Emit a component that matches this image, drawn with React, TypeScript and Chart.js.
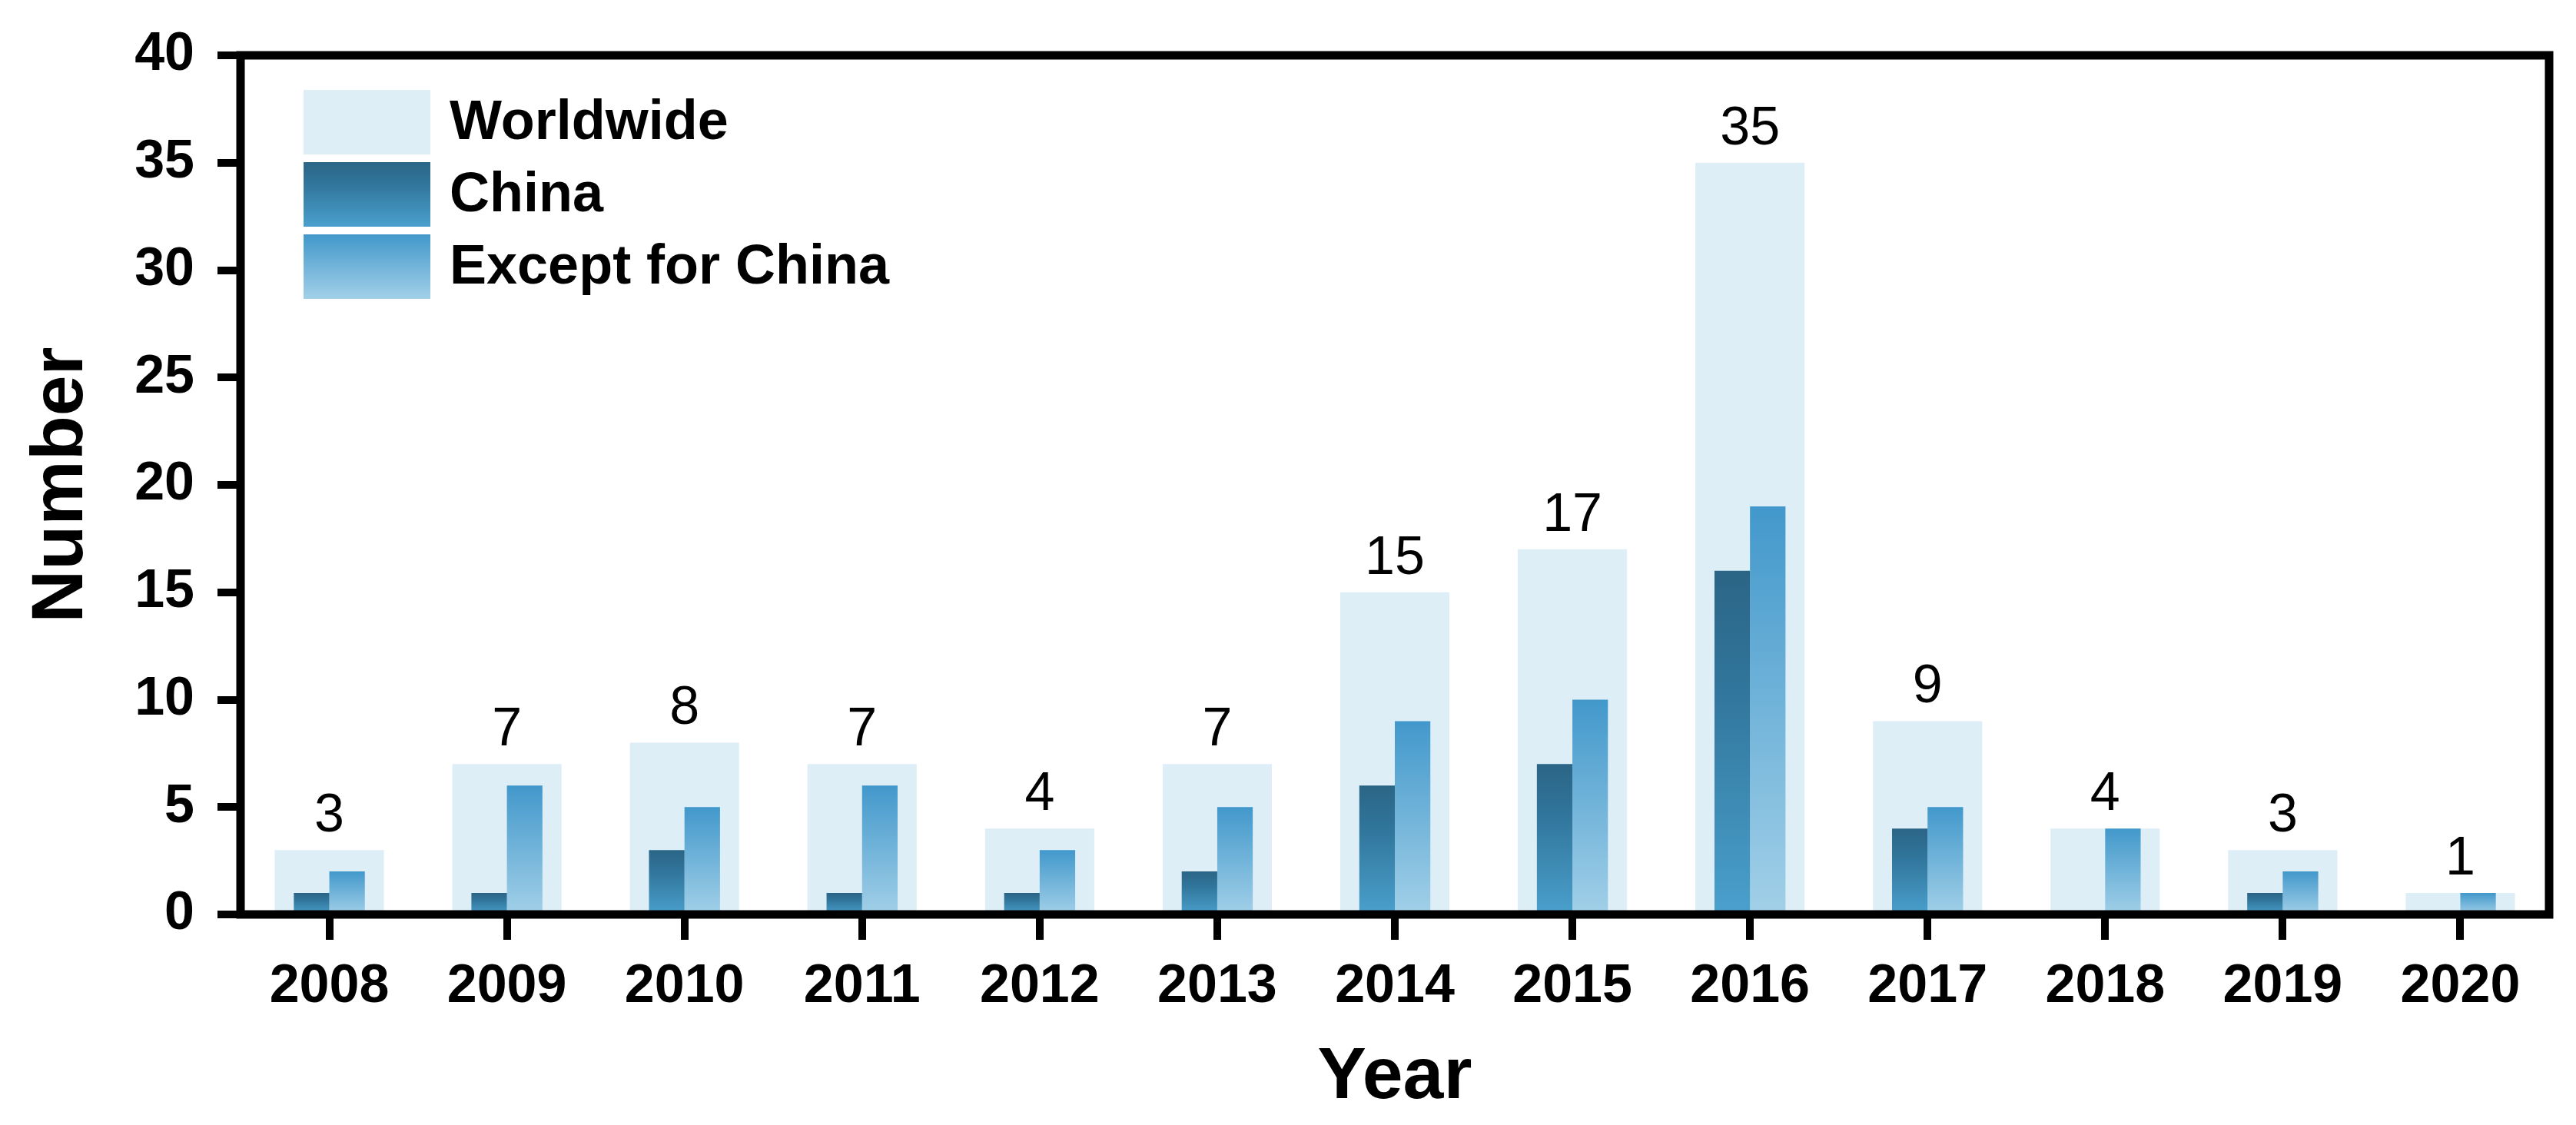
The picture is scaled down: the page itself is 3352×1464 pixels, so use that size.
import React, { useEffect, useRef } from "react";
import { Chart, registerables } from "chart.js";

Chart.register(...registerables);

const years = ["2008", "2009", "2010", "2011", "2012", "2013", "2014", "2015", "2016", "2017", "2018", "2019", "2020"];
const worldwide = [3, 7, 8, 7, 4, 7, 15, 17, 35, 9, 4, 3, 1];
const china = [1, 1, 3, 1, 1, 2, 6, 7, 16, 4, 0, 1, 0];
const exceptChina = [2, 6, 5, 6, 3, 5, 9, 10, 19, 5, 4, 2, 1];
const yTicks = [0, 5, 10, 15, 20, 25, 30, 35, 40];

const FONT = "'Liberation Sans', Arial, Helvetica, sans-serif";
const WORLD_COLOR = "#ddeef7";
const CHINA_STOPS: [number, string][] = [[0, "#2b6586"], [0.35, "#31769c"], [1, "#4aa0cd"]];
const EXCEPT_STOPS: [number, string][] = [[0, "#4298cb"], [1, "#a2d0e8"]];

function makeGradient(c: CanvasRenderingContext2D, top: number, bottom: number, stops: [number, string][]) {
  const g = c.createLinearGradient(0, top, 0, bottom);
  stops.forEach(([o, col]) => g.addColorStop(o, col));
  return g;
}

function barGradient(stops: [number, string][]) {
  return (ctx: any) => {
    const chart = ctx.chart;
    const area = chart.chartArea;
    if (!area || ctx.type !== "data") return stops[0][1];
    const y = chart.scales.y;
    const v = ctx.raw as number;
    const top = y.getPixelForValue(v);
    const bot = y.getPixelForValue(0);
    if (bot - top < 1) return stops[0][1];
    return makeGradient(chart.ctx, top, bot, stops);
  };
}

const framePlugin = {
  id: "frame",
  afterDatasetsDraw(chart: any) {
    const { ctx, chartArea: a } = chart;
    ctx.save();
    ctx.strokeStyle = "#000";
    ctx.lineWidth = 11;
    ctx.strokeRect(a.left, a.top, a.right - a.left, a.bottom - a.top);
    ctx.restore();
  },
};

const valueLabelPlugin = {
  id: "valueLabels",
  afterDatasetsDraw(chart: any) {
    const { ctx } = chart;
    const meta = chart.getDatasetMeta(0);
    ctx.save();
    ctx.fillStyle = "#000";
    ctx.font = `70px ${FONT}`;
    ctx.textAlign = "center";
    ctx.textBaseline = "alphabetic";
    meta.data.forEach((el: any, i: number) => {
      ctx.fillText(String(worldwide[i]), el.x, el.y - 24);
    });
    ctx.restore();
  },
};

const legendPlugin = {
  id: "customLegend",
  afterDraw(chart: any) {
    const { ctx, chartArea: a } = chart;
    const x0 = a.left + 82;
    const y0 = a.top + 45;
    const w = 165;
    const h = 84;
    const pitch = 94;
    const items = [
      { label: "Worldwide", fill: () => WORLD_COLOR },
      { label: "China", fill: (t: number, b: number) => makeGradient(ctx, t, b, CHINA_STOPS) },
      { label: "Except for China", fill: (t: number, b: number) => makeGradient(ctx, t, b, EXCEPT_STOPS) },
    ];
    ctx.save();
    items.forEach((it, i) => {
      const top = y0 + i * pitch;
      ctx.fillStyle = it.fill(top, top + h) as any;
      ctx.fillRect(x0, top, w, h);
      ctx.fillStyle = "#000";
      ctx.font = `bold 72px ${FONT}`;
      ctx.textAlign = "left";
      ctx.textBaseline = "middle";
      ctx.fillText(it.label, x0 + w + 25, top + h / 2 + 2);
    });
    ctx.restore();
  },
};

export default function App() {
  const ref = useRef<HTMLCanvasElement | null>(null);

  useEffect(() => {
    document.body.style.margin = "0";
    const canvas = ref.current;
    if (!canvas) return;
    const chart = new Chart(canvas, {
      type: "bar",
      data: {
        labels: years,
        datasets: [
          {
            label: "Worldwide",
            data: worldwide,
            grouped: false,
            backgroundColor: WORLD_COLOR,
            borderWidth: 0,
            categoryPercentage: 1,
            barPercentage: 0.615,
            order: 3,
          },
          {
            label: "China",
            data: china,
            backgroundColor: barGradient(CHINA_STOPS),
            borderWidth: 0,
            categoryPercentage: 0.4,
            barPercentage: 1,
            order: 1,
          },
          {
            label: "Except for China",
            data: exceptChina,
            backgroundColor: barGradient(EXCEPT_STOPS),
            borderWidth: 0,
            categoryPercentage: 0.4,
            barPercentage: 1,
            order: 1,
          },
        ] as any,
      },
      options: {
        responsive: false,
        animation: false,
        devicePixelRatio: 1,
        layout: { padding: { top: 66, right: 35, left: 0, bottom: 0 } },
        plugins: {
          legend: { display: false },
          tooltip: { enabled: false },
        },
        scales: {
          x: {
            type: "category",
            offset: true,
            border: { display: false },
            grid: {
              offset: false,
              drawOnChartArea: false,
              drawTicks: true,
              tickLength: 33,
              lineWidth: 10,
              color: "#000",
            },
            ticks: {
              color: "#000",
              padding: 20,
              font: { family: FONT, size: 70, weight: "bold" },
              maxRotation: 0,
              autoSkip: false,
            },
            title: {
              display: true,
              text: "Year",
              color: "#000",
              font: { family: FONT, size: 95, weight: "bold" },
              padding: { top: 0, bottom: 4 },
            },
            afterFit: (s: any) => {
              s.height = 274;
            },
          },
          y: {
            min: 0,
            max: 40,
            afterBuildTicks: (s: any) => {
              s.ticks = yTicks.map((v) => ({ value: v }));
            },
            border: { display: false },
            grid: {
              drawOnChartArea: false,
              drawTicks: true,
              tickLength: 30,
              lineWidth: 10,
              color: "#000",
            },
            ticks: {
              color: "#000",
              padding: 30,
              font: { family: FONT, size: 70, weight: "bold" },
            },
            title: {
              display: true,
              text: "Number",
              color: "#000",
              font: { family: FONT, size: 95, weight: "bold" },
              padding: { top: 24, bottom: 0 },
            },
            afterFit: (s: any) => {
              s.width = 313;
            },
          },
        },
      } as any,
      plugins: [framePlugin, valueLabelPlugin, legendPlugin],
    });
    return () => chart.destroy();
  }, []);

  return (
    <div style={{ width: 3352, height: 1464, background: "#fff" }}>
      <canvas ref={ref} width={3352} height={1464} style={{ display: "block", width: 3352, height: 1464 }} />
    </div>
  );
}
